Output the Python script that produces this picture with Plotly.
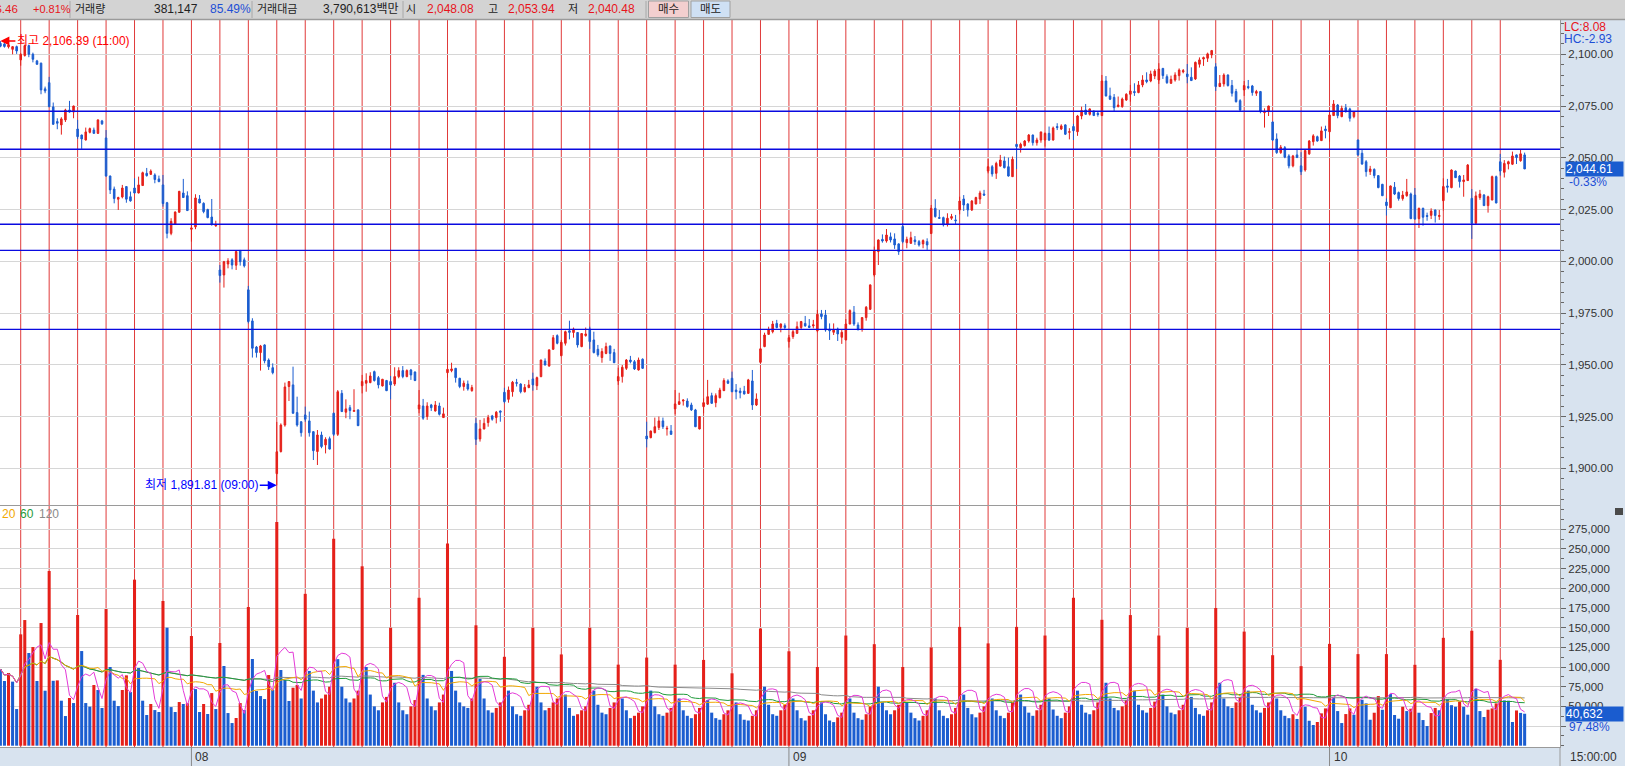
import plotly.graph_objects as go
from plotly.subplots import make_subplots
import pandas as pd

# ---------------- data ----------------
days = ["07/23", "07/24", "07/25", "07/26", "07/29", "07/30", "07/31",
        "08/01", "08/02", "08/05", "08/06", "08/07", "08/08", "08/09", "08/12", "08/13", "08/14",
        "08/16", "08/19", "08/20", "08/21", "08/22", "08/23", "08/26", "08/27", "08/28", "08/29", "08/30",
        "09/02", "09/03", "09/04", "09/05", "09/06", "09/09", "09/10", "09/11", "09/16", "09/17",
        "09/18", "09/19", "09/20", "09/23", "09/24", "09/25", "09/26", "09/27", "09/30",
        "10/01", "10/02", "10/04", "10/07", "10/08", "10/10", "10/11"]
hours = ["09:00", "10:00", "11:00", "12:00", "13:00", "14:00", "15:00"]
first_hour = "11:00"

open_p = [
    2105.3, 2105.0, 2103.6, 2102.4, 2103.7,
    2097.3, 2099.4, 2104.2, 2100.0, 2096.8, 2095.7, 2083.3,
    2086.3, 2074.6, 2067.5, 2065.9, 2068.3, 2073.1, 2072.1,
    2063.9, 2061.0, 2058.6, 2062.3, 2063.4, 2061.8, 2067.8,
    2059.6, 2041.2, 2034.9, 2030.0, 2031.1, 2036.1, 2031.2,
    2035.4, 2033.0, 2036.6, 2042.5, 2042.0, 2041.7, 2039.8,
    2036.9, 2028.3, 2013.5, 2018.0, 2023.7, 2033.0, 2031.7,
    2015.5, 2016.6, 2030.1, 2028.0, 2025.0, 2021.4, 2017.1,
    1995.8, 1993.4, 1998.7, 2000.7, 1998.1, 2005.2, 2000.7,
    1986.2, 1971.2, 1958.6, 1955.9, 1959.6, 1952.3, 1948.6,
    1897.4, 1908.1, 1920.9, 1939.5, 1940.3, 1926.9, 1922.5,
    1925.8, 1922.9, 1917.7, 1908.1, 1916.1, 1911.3, 1914.3,
    1926.6, 1916.4, 1936.2, 1927.1, 1929.3, 1927.5, 1928.2,
    1939.9, 1941.1, 1941.4, 1946.7, 1943.8, 1939.8, 1942.4,
    1941.9, 1940.7, 1944.3, 1947.2, 1944.3, 1947.5, 1946.5,
    1928.7, 1930.1, 1925.0, 1930.6, 1927.7, 1930.1, 1924.5,
    1946.2, 1947.2, 1948.3, 1943.5, 1939.5, 1940.7, 1937.5,
    1921.7, 1914.2, 1919.0, 1922.1, 1925.3, 1924.5, 1927.7,
    1936.7, 1933.3, 1937.0, 1941.4, 1940.7, 1937.0, 1939.0,
    1943.2, 1939.9, 1944.3, 1951.8, 1949.4, 1957.5, 1964.1,
    1954.4, 1960.4, 1966.4, 1965.6, 1965.6, 1958.8, 1964.1,
    1967.3, 1962.0, 1957.5, 1953.5, 1955.5, 1959.1, 1955.9,
    1942.2, 1944.3, 1948.3, 1952.3, 1951.5, 1947.5, 1952.7,
    1915.6, 1914.8, 1917.2, 1919.7, 1922.9, 1919.0, 1918.0,
    1928.7, 1930.9, 1932.5, 1932.5, 1930.6, 1928.2, 1919.0,
    1929.8, 1931.0, 1935.1, 1931.7, 1934.1, 1937.5, 1942.2,
    1943.5, 1937.8, 1937.3, 1937.3, 1936.2, 1942.2, 1930.6,
    1951.2, 1958.8, 1964.7, 1966.0, 1970.0, 1968.1, 1968.9,
    1961.2, 1963.6, 1965.2, 1968.0, 1970.0, 1968.8, 1968.8,
    1966.4, 1974.6, 1974.1, 1967.2, 1965.7, 1967.3, 1963.3,
    1962.0, 1969.7, 1975.4, 1969.2, 1967.2, 1972.8, 1976.8,
    1993.4, 2004.7, 2010.6, 2009.8, 2011.8, 2010.8, 2008.4,
    2016.8, 2009.0, 2008.7, 2010.3, 2009.5, 2008.4, 2009.5,
    2013.4, 2025.6, 2021.1, 2021.1, 2017.9, 2020.8, 2020.0,
    2024.8, 2030.1, 2027.7, 2024.8, 2027.7, 2030.1, 2032.5,
    2043.6, 2045.7, 2042.5, 2046.0, 2048.5, 2045.7, 2040.9,
    2056.5, 2054.9, 2055.9, 2058.1, 2061.0, 2057.3, 2058.6,
    2058.6, 2061.8, 2058.6, 2065.1, 2063.9, 2065.9, 2062.3,
    2065.1, 2062.6, 2070.2, 2073.1, 2071.0, 2072.6, 2071.5,
    2070.4, 2087.1, 2079.9, 2079.2, 2074.7, 2074.7, 2077.9,
    2080.7, 2082.0, 2081.5, 2085.2, 2087.6, 2087.1, 2089.5,
    2087.6, 2093.2, 2089.2, 2086.0, 2087.6, 2089.7, 2091.5,
    2090.5, 2088.9, 2088.1, 2095.2, 2097.7, 2098.1, 2099.7,
    2094.0, 2084.4, 2085.7, 2090.0, 2084.9, 2082.0, 2077.6,
    2082.8, 2084.4, 2084.7, 2081.2, 2082.0, 2071.8, 2072.3,
    2067.3, 2059.1, 2052.5, 2054.9, 2050.9, 2046.1, 2051.4,
    2046.1, 2044.1, 2051.9, 2057.8, 2060.2, 2058.3, 2063.9,
    2062.6, 2070.4, 2075.5, 2069.9, 2074.2, 2073.6, 2069.9,
    2058.6, 2052.2, 2048.1, 2043.3, 2044.4, 2041.4, 2037.2,
    2028.6, 2025.9, 2035.8, 2033.2, 2030.3, 2031.7, 2032.5,
    2032.0, 2020.6, 2025.6, 2022.1, 2022.2, 2024.8, 2021.7,
    2029.3, 2036.4, 2035.6, 2043.6, 2041.2, 2038.5, 2039.0,
    2030.4, 2018.4, 2030.8, 2032.0, 2026.9, 2029.6, 2040.9,
    2048.08, 2043.0, 2047.0, 2046.9, 2051.4, 2048.6, 2051.4,
]
high_p = [
    2106.39, 2105.8, 2105.2, 2104.0, 2104.2,
    2100.5, 2104.7, 2104.7, 2100.8, 2097.3, 2096.0, 2084.4,
    2089.1, 2076.7, 2069.1, 2069.6, 2073.7, 2077.5, 2075.2,
    2068.3, 2061.2, 2064.6, 2064.6, 2064.6, 2068.6, 2068.3,
    2063.4, 2041.4, 2036.1, 2031.2, 2036.9, 2036.3, 2033.7,
    2040.1, 2040.9, 2043.3, 2045.1, 2044.4, 2042.5, 2041.4,
    2041.7, 2028.7, 2020.8, 2024.1, 2034.0, 2039.8, 2033.8,
    2018.7, 2032.4, 2032.0, 2028.5, 2025.4, 2030.1, 2019.6,
    1998.2, 2000.2, 2001.5, 2001.5, 2005.0, 2005.5, 2001.8,
    1988.1, 1972.5, 1959.1, 1959.6, 1959.9, 1953.1, 1950.7,
    1922.4, 1921.7, 1941.4, 1942.1, 1949.1, 1934.6, 1922.7,
    1929.8, 1927.4, 1917.9, 1918.5, 1917.7, 1915.0, 1915.3,
    1926.9, 1937.8, 1937.8, 1933.3, 1930.6, 1938.2, 1928.5,
    1945.1, 1945.9, 1946.4, 1947.2, 1944.6, 1943.2, 1942.7,
    1944.6, 1948.8, 1948.8, 1949.4, 1947.8, 1948.0, 1946.8,
    1937.8, 1933.5, 1931.9, 1931.1, 1932.5, 1931.7, 1929.3,
    1952.3, 1951.0, 1948.5, 1943.7, 1942.4, 1942.4, 1940.3,
    1924.2, 1923.4, 1924.2, 1925.8, 1925.8, 1927.7, 1927.9,
    1938.9, 1939.5, 1942.2, 1943.2, 1941.1, 1940.7, 1942.7,
    1946.2, 1944.3, 1952.5, 1953.1, 1957.5, 1964.4, 1964.7,
    1962.0, 1966.5, 1971.3, 1968.0, 1965.8, 1965.3, 1968.0,
    1968.4, 1966.0, 1959.6, 1958.0, 1960.7, 1959.3, 1957.7,
    1948.6, 1949.9, 1952.8, 1954.3, 1952.3, 1953.5, 1953.1,
    1922.5, 1918.2, 1924.5, 1925.0, 1924.5, 1920.5, 1920.9,
    1937.8, 1936.5, 1933.2, 1933.8, 1931.7, 1928.7, 1925.2,
    1933.8, 1942.7, 1936.5, 1936.2, 1938.9, 1943.5, 1943.0,
    1946.7, 1940.7, 1938.9, 1939.8, 1943.2, 1947.5, 1936.2,
    1958.0, 1965.5, 1968.4, 1971.2, 1971.7, 1970.0, 1970.0,
    1964.4, 1967.2, 1970.9, 1971.2, 1973.6, 1972.1, 1971.7,
    1976.5, 1976.5, 1976.5, 1970.0, 1970.0, 1968.0, 1967.3,
    1972.1, 1976.8, 1978.4, 1970.5, 1973.0, 1978.4, 1988.8,
    2007.1, 2010.6, 2013.0, 2015.6, 2013.9, 2013.5, 2008.7,
    2018.4, 2011.9, 2014.3, 2012.2, 2010.3, 2010.6, 2011.1,
    2027.2, 2030.0, 2024.8, 2021.6, 2023.2, 2022.9, 2022.4,
    2031.2, 2032.0, 2028.0, 2029.6, 2031.2, 2034.1, 2034.5,
    2049.4, 2046.5, 2048.1, 2051.4, 2050.6, 2050.1, 2050.6,
    2056.7, 2057.3, 2058.6, 2061.5, 2061.2, 2059.7, 2062.6,
    2062.2, 2065.1, 2065.1, 2066.7, 2066.2, 2066.2, 2064.3,
    2066.4, 2070.7, 2074.7, 2076.0, 2073.9, 2072.8, 2072.6,
    2090.0, 2089.5, 2083.9, 2080.8, 2079.6, 2079.1, 2081.2,
    2085.2, 2086.0, 2087.1, 2089.9, 2091.3, 2092.1, 2092.8,
    2095.7, 2093.4, 2090.3, 2089.7, 2091.3, 2093.2, 2092.9,
    2095.3, 2093.7, 2096.5, 2098.5, 2098.9, 2100.8, 2102.1,
    2095.7, 2090.0, 2090.8, 2090.3, 2087.6, 2083.3, 2078.3,
    2087.1, 2087.6, 2085.2, 2082.8, 2082.3, 2073.9, 2075.2,
    2067.5, 2061.8, 2056.2, 2055.7, 2051.7, 2051.4, 2054.3,
    2052.7, 2053.8, 2058.6, 2061.4, 2060.7, 2065.1, 2065.5,
    2072.3, 2077.9, 2076.0, 2075.2, 2076.0, 2074.2, 2072.6,
    2058.8, 2053.8, 2048.9, 2046.1, 2044.9, 2041.6, 2037.4,
    2030.4, 2036.6, 2038.3, 2033.7, 2034.0, 2039.8, 2033.2,
    2035.4, 2025.9, 2025.9, 2023.5, 2025.6, 2024.9, 2024.8,
    2040.1, 2039.8, 2044.4, 2043.8, 2041.7, 2041.7, 2047.0,
    2034.9, 2033.7, 2034.5, 2032.5, 2031.7, 2041.4, 2041.4,
    2051.9, 2048.9, 2048.6, 2053.0, 2051.6, 2053.94, 2052.5,
]
low_p = [
    2103.4, 2103.2, 2102.8, 2100.0, 2100.2,
    2094.5, 2098.9, 2098.6, 2096.1, 2094.9, 2080.7, 2081.2,
    2074.4, 2065.9, 2063.8, 2061.2, 2067.3, 2071.8, 2069.1,
    2059.1, 2054.3, 2058.4, 2061.8, 2061.6, 2061.5, 2065.9,
    2040.9, 2032.5, 2028.0, 2024.8, 2030.4, 2028.3, 2028.8,
    2032.8, 2032.8, 2036.4, 2040.9, 2041.7, 2037.7, 2038.2,
    2026.4, 2011.1, 2012.6, 2017.7, 2023.5, 2030.6, 2024.3,
    2009.5, 2015.5, 2028.0, 2023.2, 2020.8, 2017.2, 2016.7,
    1989.7, 1987.3, 1996.6, 1996.1, 1995.8, 1997.9, 1997.0,
    1970.0, 1953.5, 1953.5, 1947.2, 1950.7, 1947.5, 1945.4,
    1891.81, 1907.6, 1920.1, 1932.5, 1926.4, 1920.1, 1915.3,
    1922.5, 1915.3, 1904.0, 1901.6, 1909.7, 1907.2, 1909.1,
    1915.6, 1915.6, 1927.2, 1924.2, 1923.7, 1927.4, 1920.4,
    1936.2, 1937.0, 1941.1, 1941.9, 1938.6, 1939.5, 1937.3,
    1933.3, 1939.8, 1943.5, 1943.5, 1944.0, 1942.7, 1942.1,
    1926.6, 1923.4, 1923.4, 1927.7, 1927.4, 1925.5, 1924.4,
    1943.8, 1946.4, 1941.4, 1938.7, 1937.5, 1937.5, 1937.0,
    1911.3, 1912.9, 1918.8, 1920.1, 1923.0, 1921.7, 1922.5,
    1931.4, 1931.7, 1934.6, 1939.5, 1936.2, 1936.6, 1938.7,
    1937.5, 1937.8, 1944.0, 1949.7, 1949.1, 1957.2, 1959.9,
    1954.2, 1959.3, 1962.3, 1963.1, 1958.3, 1958.5, 1963.6,
    1957.7, 1955.5, 1953.9, 1951.0, 1955.1, 1951.9, 1950.9,
    1940.3, 1941.4, 1947.5, 1950.7, 1947.5, 1947.2, 1948.0,
    1910.1, 1914.5, 1916.9, 1918.5, 1919.0, 1915.8, 1916.2,
    1926.1, 1930.6, 1930.3, 1929.3, 1927.7, 1919.9, 1918.8,
    1926.6, 1930.6, 1931.1, 1929.5, 1933.8, 1937.4, 1940.7,
    1936.8, 1933.3, 1933.8, 1935.7, 1936.0, 1928.2, 1930.1,
    1950.7, 1958.5, 1964.4, 1965.2, 1967.6, 1965.7, 1966.8,
    1958.3, 1962.5, 1964.9, 1966.8, 1968.4, 1967.9, 1967.6,
    1965.7, 1972.0, 1966.0, 1962.0, 1964.4, 1961.5, 1960.1,
    1961.9, 1969.6, 1968.8, 1966.5, 1966.0, 1971.3, 1976.5,
    1992.6, 1998.2, 2009.0, 2009.0, 2009.1, 2006.0, 2003.1,
    2008.7, 2006.3, 2008.4, 2007.9, 2007.1, 2006.3, 2005.5,
    2013.2, 2021.1, 2020.7, 2016.8, 2016.8, 2020.0, 2017.9,
    2022.7, 2024.3, 2021.6, 2024.3, 2027.5, 2027.7, 2031.6,
    2042.5, 2040.9, 2039.8, 2045.7, 2044.9, 2040.9, 2040.7,
    2044.6, 2052.5, 2055.4, 2057.3, 2055.9, 2055.9, 2057.3,
    2055.4, 2058.1, 2058.3, 2063.4, 2063.4, 2061.0, 2058.9,
    2058.6, 2060.6, 2068.6, 2070.7, 2070.4, 2070.2, 2069.9,
    2070.2, 2079.6, 2077.9, 2072.6, 2074.4, 2074.2, 2077.5,
    2077.1, 2079.9, 2081.2, 2084.1, 2086.0, 2086.5, 2088.0,
    2085.7, 2088.1, 2085.7, 2085.7, 2086.8, 2087.3, 2090.8,
    2086.0, 2087.1, 2087.6, 2093.6, 2094.4, 2096.3, 2098.1,
    2082.3, 2084.2, 2084.4, 2084.4, 2079.6, 2076.7, 2072.6,
    2079.9, 2083.1, 2080.0, 2079.9, 2071.5, 2064.6, 2070.2,
    2058.1, 2051.9, 2051.9, 2049.8, 2044.9, 2045.4, 2050.0,
    2041.7, 2043.3, 2051.4, 2055.9, 2057.8, 2058.1, 2059.4,
    2057.8, 2070.2, 2069.1, 2069.6, 2071.8, 2067.5, 2069.1,
    2050.9, 2046.6, 2040.9, 2041.7, 2040.1, 2035.3, 2031.5,
    2022.1, 2025.7, 2032.0, 2029.3, 2029.3, 2031.2, 2020.4,
    2020.2, 2016.1, 2017.2, 2019.6, 2020.4, 2018.7, 2020.0,
    2024.5, 2033.2, 2035.3, 2040.3, 2035.6, 2031.2, 2038.8,
    2010.8, 2018.0, 2029.7, 2026.7, 2023.5, 2029.5, 2028.1,
    2041.4, 2040.48, 2044.4, 2046.5, 2047.0, 2048.1, 2044.6,
]
close_p = [
    2103.9, 2103.8, 2104.5, 2103.7, 2101.6,
    2100.0, 2104.2, 2100.0, 2097.6, 2095.2, 2082.8, 2082.3,
    2074.7, 2066.2, 2066.7, 2068.8, 2073.1, 2072.1, 2075.0,
    2060.2, 2059.1, 2062.5, 2064.1, 2061.8, 2068.3, 2066.4,
    2041.2, 2034.5, 2030.3, 2030.8, 2035.4, 2030.0, 2029.2,
    2033.0, 2036.9, 2042.8, 2041.4, 2043.6, 2039.5, 2038.5,
    2027.9, 2013.5, 2019.3, 2023.8, 2033.8, 2030.8, 2024.5,
    2016.1, 2030.6, 2028.2, 2024.0, 2021.1, 2018.0, 2017.6,
    1993.1, 1999.8, 2000.2, 1998.2, 2004.7, 1999.8, 1997.8,
    1970.9, 1958.0, 1955.9, 1959.1, 1951.9, 1949.1, 1946.2,
    1908.0, 1920.9, 1939.3, 1941.9, 1926.6, 1920.9, 1917.2,
    1923.7, 1917.2, 1908.5, 1916.1, 1910.5, 1914.0, 1909.3,
    1916.4, 1937.0, 1927.4, 1928.7, 1927.9, 1927.9, 1920.6,
    1941.9, 1942.4, 1944.6, 1942.4, 1940.3, 1943.0, 1937.5,
    1940.3, 1944.3, 1947.2, 1944.3, 1947.2, 1945.1, 1942.4,
    1930.6, 1924.2, 1930.1, 1929.3, 1930.6, 1926.1, 1926.3,
    1947.8, 1948.0, 1943.8, 1939.5, 1941.1, 1938.3, 1939.0,
    1914.0, 1919.0, 1921.7, 1924.5, 1923.7, 1927.1, 1927.1,
    1932.2, 1937.8, 1941.6, 1941.1, 1937.0, 1939.1, 1940.3,
    1940.3, 1943.8, 1952.3, 1949.9, 1957.2, 1963.1, 1960.4,
    1960.9, 1966.0, 1965.7, 1967.3, 1959.6, 1965.1, 1964.9,
    1961.2, 1955.9, 1954.8, 1956.4, 1958.8, 1955.5, 1951.0,
    1944.3, 1948.8, 1952.3, 1951.5, 1948.0, 1952.3, 1948.3,
    1914.2, 1918.0, 1920.1, 1922.9, 1920.1, 1919.3, 1916.4,
    1931.1, 1932.2, 1933.0, 1929.8, 1928.2, 1920.1, 1925.0,
    1931.7, 1934.6, 1931.4, 1935.1, 1937.8, 1942.4, 1941.1,
    1937.0, 1937.0, 1936.5, 1935.9, 1942.7, 1930.6, 1933.5,
    1957.7, 1964.4, 1967.1, 1969.7, 1968.0, 1969.7, 1968.0,
    1963.1, 1966.0, 1968.4, 1970.9, 1968.8, 1968.0, 1969.3,
    1974.4, 1973.3, 1966.8, 1966.4, 1966.8, 1964.9, 1965.7,
    1969.7, 1976.2, 1969.7, 1967.2, 1972.8, 1977.8, 1988.6,
    2005.0, 2010.3, 2009.8, 2012.7, 2010.3, 2007.9, 2004.7,
    2009.5, 2010.6, 2011.4, 2009.5, 2007.9, 2010.0, 2007.9,
    2025.6, 2021.6, 2020.8, 2017.6, 2020.8, 2021.6, 2019.6,
    2029.1, 2027.2, 2024.8, 2029.1, 2030.8, 2033.0, 2032.0,
    2045.7, 2042.2, 2047.3, 2048.9, 2045.2, 2041.2, 2049.3,
    2055.4, 2056.5, 2058.1, 2061.0, 2057.3, 2058.6, 2062.5,
    2061.8, 2058.6, 2064.4, 2064.6, 2065.4, 2061.4, 2062.6,
    2063.1, 2070.2, 2072.8, 2071.0, 2073.6, 2070.4, 2070.9,
    2087.1, 2079.9, 2078.3, 2074.2, 2075.5, 2078.4, 2080.7,
    2082.3, 2081.5, 2085.2, 2087.6, 2086.8, 2090.5, 2091.9,
    2092.9, 2089.7, 2086.3, 2087.9, 2090.0, 2092.4, 2092.1,
    2089.2, 2087.3, 2096.1, 2097.3, 2098.4, 2100.2, 2101.8,
    2084.4, 2086.0, 2090.0, 2084.9, 2081.2, 2077.1, 2073.1,
    2084.9, 2083.9, 2081.5, 2082.0, 2072.3, 2072.3, 2075.0,
    2058.6, 2052.5, 2055.1, 2050.3, 2046.1, 2050.9, 2050.1,
    2043.3, 2053.5, 2058.1, 2060.6, 2058.1, 2063.0, 2063.1,
    2070.7, 2076.0, 2070.4, 2073.9, 2072.3, 2069.1, 2072.3,
    2051.4, 2047.0, 2043.3, 2044.6, 2041.4, 2035.6, 2031.7,
    2026.9, 2036.4, 2032.5, 2030.3, 2032.0, 2033.5, 2020.6,
    2020.4, 2025.6, 2021.3, 2021.7, 2024.3, 2022.1, 2022.1,
    2036.1, 2035.8, 2044.1, 2040.4, 2038.5, 2039.3, 2046.5,
    2018.4, 2031.6, 2032.5, 2026.9, 2031.2, 2040.9, 2028.15,
    2043.6, 2047.3, 2048.1, 2050.9, 2050.1, 2051.9, 2044.61,
]
volume = [
    97500, 82200, 92400, 81400, 46600,
    141500, 159700, 117800, 125400, 82200, 155900, 69900,
    222000, 82500, 83000, 57200, 37700, 60600, 54200,
    166100, 120300, 54200, 49600, 77100, 70800, 47900,
    173700, 100000, 57200, 50400, 70800, 89400, 68200,
    211000, 98700, 57200, 39000, 53000, 45300, 42800,
    183900, 150000, 49100, 42800, 55500, 53000, 54000,
    139400, 72000, 42800, 53000, 40300, 66900, 46600,
    130500, 101300, 41500, 28800, 35200, 54200, 45300,
    176300, 110200, 69500, 63100, 59300, 89800, 70800,
    284300, 96200, 83500, 56800, 73700, 77100, 60000,
    193000, 95000, 70000, 55000, 60000, 65000, 75000,
    263000, 110000, 75000, 60000, 55000, 60000, 70000,
    228000, 100000, 65000, 50000, 45000, 55000, 62000,
    150000, 80000, 55000, 45000, 40000, 50000, 58000,
    188000, 90000, 60000, 50000, 45000, 55000, 65000,
    257000, 95000, 70000, 55000, 50000, 48000, 60000,
    153000, 85000, 60000, 45000, 42000, 48000, 55000,
    113000, 70000, 50000, 40000, 38000, 45000, 52000,
    150000, 75000, 55000, 45000, 48000, 55000, 60000,
    116000, 65000, 48000, 38000, 40000, 45000, 50000,
    150000, 70000, 52000, 42000, 40000, 48000, 55000,
    103000, 60000, 45000, 35000, 38000, 42000, 50000,
    112000, 70000, 50000, 40000, 38000, 42000, 48000,
    103000, 60000, 45000, 38000, 35000, 40000, 48000,
    109000, 58000, 42000, 35000, 33000, 40000, 45000,
    92000, 55000, 40000, 33000, 32000, 38000, 45000,
    149000, 75000, 52000, 40000, 38000, 45000, 52000,
    120000, 60000, 45000, 35000, 32000, 38000, 45000,
    100000, 55000, 40000, 32000, 30000, 36000, 42000,
    140000, 60000, 42000, 35000, 33000, 40000, 50000,
    129000, 75000, 55000, 45000, 40000, 45000, 52000,
    100000, 55000, 42000, 35000, 32000, 38000, 45000,
    125000, 60000, 45000, 38000, 35000, 40000, 48000,
    151000, 65000, 48000, 40000, 36000, 42000, 50000,
    130000, 60000, 45000, 38000, 35000, 42000, 55000,
    151000, 65000, 50000, 42000, 38000, 45000, 52000,
    140000, 60000, 46000, 38000, 35000, 42000, 50000,
    188000, 70000, 52000, 42000, 40000, 45000, 55000,
    160000, 80000, 60000, 48000, 45000, 50000, 58000,
    166000, 70000, 52000, 45000, 42000, 48000, 56000,
    140000, 65000, 50000, 42000, 40000, 45000, 52000,
    150000, 62000, 48000, 40000, 38000, 45000, 55000,
    175000, 80000, 60000, 50000, 48000, 55000, 62000,
    145000, 70000, 52000, 45000, 42000, 48000, 55000,
    115000, 60000, 45000, 38000, 35000, 40000, 34000,
    101100, 49500, 31700, 26300, 30100, 41100, 47400,
    129400, 61400, 44000, 28800, 40200, 47400, 39400,
    116400, 58400, 53800, 33000, 41900, 63100, 45700,
    116400, 65600, 39000, 34300, 49500, 44000, 47000,
    102800, 41900, 32600, 25000, 41500, 48000, 45000,
    137100, 59000, 51500, 49500, 55800, 49500, 39400,
    146100, 72300, 44000, 36500, 45700, 47400, 53800,
    109131, 57600, 57200, 30100, 44800, 41684, 40632,
]
ma_periods = [120, 60, 20, 5]
support_levels = [2072.5, 2054.1, 2017.9, 2005.3, 1967.1]
price_ticks = [1900, 1925, 1950, 1975, 2000, 2025, 2050, 2075, 2100]
volume_ticks = [25000, 50000, 75000, 100000, 125000, 150000, 175000, 200000, 225000, 250000, 275000]
month_labels = ["08", "09", "10"]

# ---------------- derived ----------------
labels = []
for i, d in enumerate(days):
    hs = hours[hours.index(first_hour):] if i == 0 else hours
    labels += [f"2019/{d} {h}" for h in hs]
n = len(labels)
assert len(open_p) == n and len(high_p) == n and len(low_p) == n and len(close_p) == n and len(volume) == n

RED = "#e5201a"
BLUE = "#1b5dd0"
vcolors = [BLUE] + [RED if volume[i] >= volume[i - 1] else BLUE for i in range(1, n)]
ma_colors = {5: "#e43ad8", 20: "#f2a800", 60: "#1f9b3a", 120: "#8a8a8a"}
vs = pd.Series(volume, dtype=float)

day_start_idx = [i for i, lb in enumerate(labels) if lb.endswith("09:00")]
month_idx = []
prev_m = labels[0][5:7]
for i in day_start_idx:
    m = labels[i][5:7]
    if m != prev_m:
        month_idx.append(i)
    prev_m = m

# ---------------- geometry ----------------
W, H = 1625, 766
ML, MR, MT, MB = 0, 65, 20, 19
PW, PH = W - ML - MR, H - MT - MB
def px_x(px):
    return (px - ML) / PW
def px_y(py):
    return (H - MB - py) / PH
split = px_y(505)
FONT = "Liberation Sans, Noto Sans CJK KR, sans-serif"

fig = make_subplots(rows=2, cols=1, shared_xaxes=True, vertical_spacing=0)
fig.add_trace(go.Candlestick(
    x=labels, open=open_p, high=high_p, low=low_p, close=close_p,
    increasing=dict(line=dict(color=RED, width=1), fillcolor=RED),
    decreasing=dict(line=dict(color=BLUE, width=1), fillcolor=BLUE),
    whiskerwidth=0, showlegend=False, hoverinfo="skip"), row=1, col=1)
fig.add_trace(go.Bar(x=labels, y=volume, marker=dict(color=vcolors, line=dict(width=0)),
                     showlegend=False, hoverinfo="skip"), row=2, col=1)
for p in ma_periods:
    fig.add_trace(go.Scatter(x=labels, y=vs.rolling(p, min_periods=1).mean(), mode="lines",
                             line=dict(color=ma_colors[p], width=1), showlegend=False,
                             hoverinfo="skip"), row=2, col=1)

xr = [-0.095, 383.7]
fig.update_layout(
    width=W, height=H, margin=dict(l=ML, r=MR, t=MT, b=MB, pad=0),
    paper_bgcolor="#d8e3ef", plot_bgcolor="#ffffff",
    bargap=0.25, boxgap=0.45, showlegend=False,
    font=dict(family=FONT, size=11.5, color="#333333"),
)
fig.update_xaxes(type="category", range=xr, showgrid=False, zeroline=False,
                 showline=True, linecolor="#9a9a9a", linewidth=1,
                 showticklabels=False, ticks="", fixedrange=True)
fig.update_layout(xaxis_rangeslider_visible=False)
fig.update_yaxes(row=1, col=1, side="right", domain=[split, 1], range=[1882.27, 2116.57],
                 tickmode="array", tickvals=price_ticks,
                 ticktext=[f"{v:,.2f}" for v in price_ticks],
                 ticks="outside", ticklen=5, tickcolor="#666666",
                 showgrid=True, gridcolor="#d6d6d6", gridwidth=1, zeroline=False,
                 showline=True, linecolor="#9a9a9a", linewidth=1,
                 minor=dict(tickmode="linear", tick0=1900, dtick=5, ticks="outside",
                            ticklen=3, tickcolor="#666666", showgrid=False))
fig.update_yaxes(row=2, col=1, side="right", domain=[0, split], range=[-1650, 305900],
                 tickmode="array", tickvals=volume_ticks,
                 ticktext=["" if v < 50000 else f"{v:,}" for v in volume_ticks],
                 ticks="outside", ticklen=5, tickcolor="#666666",
                 showgrid=True, gridcolor="#d6d6d6", gridwidth=1, zeroline=False,
                 showline=True, linecolor="#9a9a9a", linewidth=1,
                 minor=dict(tickmode="linear", tick0=0, dtick=12500, ticks="outside",
                            ticklen=3, tickcolor="#666666", showgrid=False))

shapes = []
for i in day_start_idx:
    shapes.append(dict(type="line", xref="x", yref="paper", x0=i, x1=i, y0=0, y1=1,
                       line=dict(color="#e03a3a", width=1), layer="between"))
for lv in support_levels:
    shapes.append(dict(type="line", xref="paper", yref="y", x0=0, x1=1, y0=lv, y1=lv,
                       line=dict(color="#0a0ae0", width=1.4), layer="above"))
for i in month_idx:
    shapes.append(dict(type="line", xref="x", yref="paper", x0=i, x1=i, y0=px_y(747), y1=px_y(766),
                       line=dict(color="#8a8a8a", width=1)))
shapes.append(dict(type="line", xref="paper", yref="paper", x0=1, x1=1, y0=px_y(747), y1=px_y(766),
                   line=dict(color="#9a9a9a", width=1)))
shapes.append(dict(type="rect", xref="paper", yref="paper", x0=px_x(0), x1=px_x(W), y0=px_y(19), y1=px_y(0),
                   fillcolor="#d3d3d3", line=dict(width=0), layer="above"))
shapes.append(dict(type="line", xref="paper", yref="paper", x0=px_x(0), x1=px_x(W), y0=px_y(19.5), y1=px_y(19.5),
                   line=dict(color="#9a9a9a", width=1.5), layer="above"))
for sx in [70, 252, 403, 646]:
    shapes.append(dict(type="line", xref="paper", yref="paper", x0=px_x(sx), x1=px_x(sx), y0=px_y(18), y1=px_y(1),
                       line=dict(color="#a8a8a8", width=1), layer="above"))
shapes.append(dict(type="rect", xref="paper", yref="paper", x0=px_x(648.5), x1=px_x(688.5), y0=px_y(17.5), y1=px_y(1),
                   fillcolor="#f3cfcf", line=dict(color="#a0a0a0", width=1), layer="above"))
shapes.append(dict(type="rect", xref="paper", yref="paper", x0=px_x(691), x1=px_x(730), y0=px_y(17.5), y1=px_y(1),
                   fillcolor="#cfe0f4", line=dict(color="#a0a0a0", width=1), layer="above"))
shapes.append(dict(type="rect", xref="paper", yref="paper", x0=px_x(1615), x1=px_x(1623), y0=px_y(515), y1=px_y(508),
                   fillcolor="#4a4a4a", line=dict(width=0)))
fig.update_layout(shapes=shapes)

ann = []
def txt(s, x, y, color="#222222", anchor="left", size=12, **kw):
    ann.append(dict(text=s, xref="paper", yref="paper", x=px_x(x), y=px_y(y), xanchor=anchor,
                    yanchor="middle", showarrow=False, font=dict(size=size, color=color, family=FONT), **kw))

HRED, HBLUE = "#e8141b", "#1d4fd6"
txt("16.46", 20, 9.5, HRED, "right", size=11.5)
txt("+0.81%", 31, 9.5, HRED, size=11)
txt("거래량", 73, 9.5, size=11)
txt("381,147", 200, 9.5, anchor="right", size=12)
txt("85.49%", 208, 9.5, HBLUE, size=12)
txt("거래대금", 255, 9.5, size=11)
txt("3,790,613백만", 321, 9.5, size=12)
txt("시", 404, 9.5, size=11)
txt("2,048.08", 425, 9.5, HRED, size=12)
txt("고", 486, 9.5, size=11)
txt("2,053.94", 506, 9.5, HRED, size=12)
txt("저", 566, 9.5, size=11)
txt("2,040.48", 586, 9.5, HRED, size=12)
txt("매수", 668.5, 9.5, anchor="center", size=11.5)
txt("매도", 710.5, 9.5, anchor="center", size=11.5)

txt("LC:8.08", 1562, 27, "#e8141b")
txt("HC:-2.93", 1562, 39, HBLUE)
ann.append(dict(text=f"{close_p[-1]:,.2f}", xref="paper", yref="y", x=px_x(1565), y=close_p[-1],
                xanchor="left", yanchor="middle", showarrow=False, bgcolor="#1a5ccf", width=57, align="left",
                borderpad=0, font=dict(size=12, color="#ffffff", family=FONT)))
ann.append(dict(text=f"{(close_p[-1] / open_p[-1] - 1) * 100:.2f}%", xref="paper", yref="y", x=px_x(1567),
                y=close_p[-1], yshift=-13, xanchor="left", yanchor="middle", showarrow=False,
                font=dict(size=12, color=HBLUE, family=FONT)))
ann.append(dict(text=f"{volume[-1]:,}", xref="paper", yref="y2", x=px_x(1565), y=volume[-1],
                xanchor="left", yanchor="middle", showarrow=False, bgcolor="#1a5ccf", width=57, align="left",
                borderpad=0, font=dict(size=12, color="#ffffff", family=FONT)))
ann.append(dict(text=f"{volume[-1] / volume[-2] * 100:.2f}%", xref="paper", yref="y2", x=px_x(1567),
                y=volume[-1], yshift=-13, xanchor="left", yanchor="middle", showarrow=False,
                font=dict(size=12, color=HBLUE, family=FONT)))
txt("15:00:00", 1568, 757, "#333333", size=12)

txt("20", 0, 514, ma_colors[20], size=12)
txt("60", 18, 514, ma_colors[60], size=12)
txt("120", 37, 514, ma_colors[120], size=12)

for i, lab in zip(month_idx, month_labels):
    ann.append(dict(text=lab, xref="x", yref="paper", x=i, y=px_y(757), xanchor="left", yanchor="middle",
                    xshift=2, showarrow=False, font=dict(size=12, color="#333333", family=FONT)))

hi_i = max(range(n), key=lambda k: high_p[k])
lo_i = min(range(n), key=lambda k: low_p[k])
ann.append(dict(text=f"최고 {high_p[hi_i]:,.2f} ({labels[hi_i][-5:]})", xref="x", yref="y",
                x=hi_i, y=high_p[hi_i], ax=73, ay=0, axref="pixel", ayref="pixel",
                showarrow=True, arrowhead=2, arrowsize=1.2, arrowwidth=1.5, arrowcolor="#ff0000",
                standoff=0, font=dict(size=12, color="#ff0000", family=FONT)))
ann.append(dict(text=f"최저 {low_p[lo_i]:,.2f} ({labels[lo_i][-5:]})", xref="x", yref="y",
                x=lo_i, y=low_p[lo_i], ax=-75, ay=0, axref="pixel", ayref="pixel",
                showarrow=True, arrowhead=2, arrowsize=1.2, arrowwidth=1.5, arrowcolor="#0000ff",
                standoff=0, font=dict(size=12, color="#0000ff", family=FONT)))
fig.update_layout(annotations=ann)

fig.write_html("out.html", config={"displayModeBar": False, "staticPlot": True},
               post_script="document.body.style.margin='0px';document.body.style.padding='0px';document.body.style.overflow='hidden';")
